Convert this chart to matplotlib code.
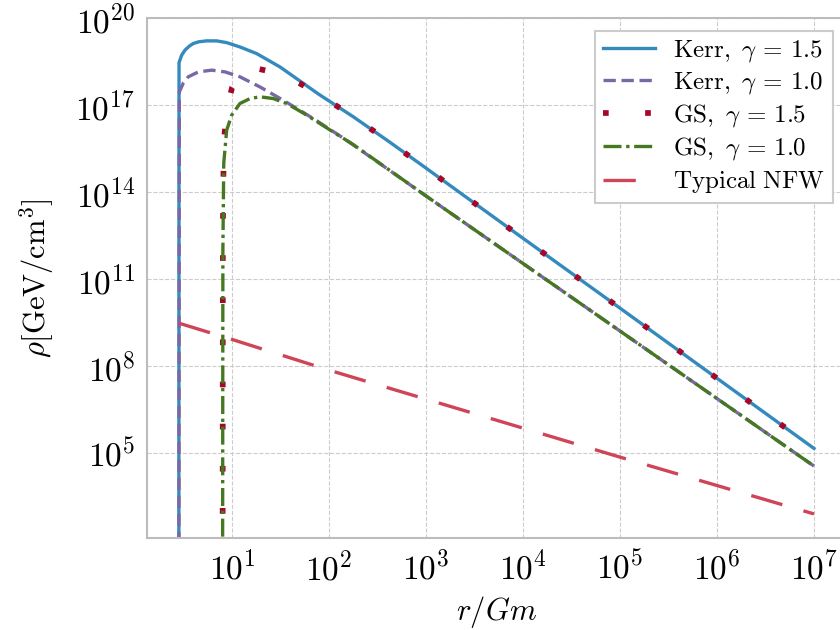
import numpy as np
import matplotlib
matplotlib.use("Agg")
import matplotlib.pyplot as plt

plt.rcParams['font.family'] = ['cmr10', 'DejaVu Serif']
plt.rcParams['mathtext.fontset'] = 'cm'
plt.rcParams['axes.formatter.use_mathtext'] = True
plt.rcParams['axes.unicode_minus'] = False

# values, stored as log10(r/Gm) and log10(rho)
kerr15_logr = [0.452, 0.454, 0.480, 0.515, 0.560, 0.601, 0.660, 0.739, 0.842, 0.945,
               1.082, 1.255, 1.495, 1.894, 2.251, 2.608, 2.959, 4.0, 5.0, 6.0, 7.0]
kerr15_logrho = [0.0, 18.47, 18.72, 18.90, 19.04, 19.13, 19.19, 19.22, 19.22, 19.16,
                 19.01, 18.78, 18.32, 17.38, 16.60, 15.77, 14.93, 12.41, 10.0, 7.58, 5.16]

kerr10_logr = [0.452, 0.457, 0.500, 0.549, 0.653, 0.791, 0.928, 1.082, 1.289, 1.529,
               1.838, 2.182, 3.0, 4.0, 5.0, 6.0, 7.0]
kerr10_logrho = [0.0, 17.46, 17.78, 17.98, 18.15, 18.21, 18.15, 17.98, 17.63, 17.17,
                 16.54, 15.79, 13.87, 11.54, 9.21, 6.88, 4.55]

gs15_logr = [0.903, 0.906, 0.915, 0.945, 1.0, 1.1, 1.28, 1.512, 1.7, 1.894, 2.251,
             2.608, 2.959, 4.0, 5.0, 6.0, 7.0]
gs15_logrho = [0.0, 12.7, 15.7, 16.83, 17.6, 18.15, 18.25, 18.07, 17.75, 17.38, 16.60,
               15.77, 14.93, 12.41, 10.0, 7.58, 5.16]

gs10_logr = [0.903, 0.906, 0.915, 0.945, 0.997, 1.082, 1.186, 1.289, 1.426, 1.564,
             1.770, 1.976, 2.251, 3.0, 4.0, 5.0, 6.0, 7.0]
gs10_logrho = [0.0, 12.0, 15.0, 16.14, 16.66, 17.06, 17.23, 17.29, 17.23, 17.06,
               16.66, 16.22, 15.64, 13.87, 11.54, 9.21, 6.88, 4.55]

nfw_logr = [0.454, 1.0, 2.0, 5.0, 7.0]
nfw_logrho = [9.48, 8.92, 7.86, 4.86, 2.90]

labels = [r'$\mathrm{Kerr},\ \gamma\,=\,1.5$', r'$\mathrm{Kerr},\ \gamma\,=\,1.0$',
          r'$\mathrm{GS},\ \gamma\,=\,1.5$', r'$\mathrm{GS},\ \gamma\,=\,1.0$',
          r'$\mathrm{Typical\ NFW}$']

fig = plt.figure(figsize=(8.4, 6.3), dpi=100)
ax = fig.add_axes([0.175, 0.146, 0.831, 0.825])

def p(lr, lrho):
    return 10 ** np.array(lr), 10 ** np.array(lrho)

ax.plot(*p(kerr15_logr, kerr15_logrho), color='#348ABD', lw=2.4, label=labels[0])
ax.plot(*p(kerr10_logr, kerr10_logrho), color='#7A68A6', lw=2.4, ls=(0, (3.7, 1.7)),
        label=labels[1])
ax.plot(*p(gs15_logr, gs15_logrho), color='#A60628', lw=4.1, ls=(0, (1, 6.4)),
        dash_capstyle='butt', label=labels[2])
ax.plot(*p(gs10_logr, gs10_logrho), color='#467821', lw=2.4, ls=(0, (5.4, 1.4, 1, 1.4)),
        label=labels[3])
ax.plot(*p(nfw_logr, nfw_logrho), color='#CF4457', lw=2.4, ls=(0, (9.7, 6.6)),
        label=labels[4])

ax.set_xscale('log')
ax.set_yscale('log')
ax.set_xlim(10 ** 0.1237, 10 ** 7.32)
ax.set_ylim(10 ** 2.069, 1e20)
ax.set_yticks([1e5, 1e8, 1e11, 1e14, 1e17, 1e20])
ax.set_xticks([1e1, 1e2, 1e3, 1e4, 1e5, 1e6, 1e7])
ax.minorticks_off()

ax.grid(True, color='#cccccc', ls='--', lw=0.8)
ax.set_axisbelow(True)
for s in ax.spines.values():
    s.set_color('#bcbcbc')
    s.set_linewidth(1.5)
ax.tick_params(length=0, pad=8.5, labelsize=24)

ax.set_xlabel(r'$r/Gm$', fontsize=22, labelpad=6)
ax.set_ylabel(r'$\rho[\mathrm{GeV/cm}^3]$', fontsize=22, labelpad=14)

leg = ax.legend(loc='upper right', fontsize=18, handlelength=2.1, handletextpad=0.7,
                borderpad=0.3, labelspacing=0.24, fancybox=False, framealpha=1.0,
                borderaxespad=0.5)
leg.get_frame().set_edgecolor('#cccccc')
leg.get_frame().set_linewidth(1.5)

fig.savefig('out.png', dpi=100)
